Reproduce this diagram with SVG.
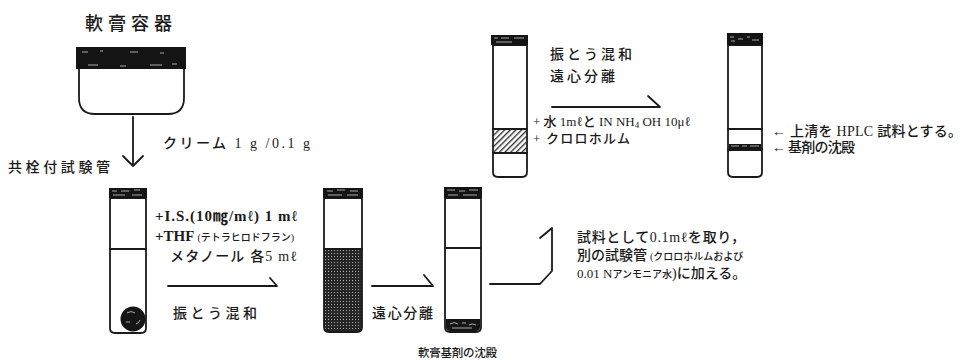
<svg xmlns="http://www.w3.org/2000/svg" width="965" height="360" viewBox="0 0 965 360">
  <style>
    .t { font-family: "Liberation Serif", "Noto Sans CJK JP", serif; fill: #1a1a1a; }
    .jp { font-weight: 500; }
    .small { font-size: 10px; }
    .ln { fill: none; stroke: #1a1a1a; stroke-width: 1.8; stroke-linecap: round; stroke-linejoin: round; }
    .tube { fill: #fff; stroke: #1a1a1a; stroke-width: 1.8; }
    .outline { fill: none; stroke: #1a1a1a; stroke-width: 1.8; }
    .cap { fill: #141414; }
    .speck { stroke: #fff; stroke-width: 0.8; fill: none; opacity: 0.8; }
  </style>
  <defs>
    <pattern id="dots" width="3" height="3" patternUnits="userSpaceOnUse">
      <rect width="3" height="3" fill="#262626"/>
      <rect x="1" y="1" width="1" height="1" fill="#a8a8a8"/>
    </pattern>
    <pattern id="hatch" width="4" height="4" patternUnits="userSpaceOnUse" patternTransform="rotate(45)">
      <rect width="4" height="4" fill="#fff"/>
      <rect x="0" y="0" width="1.4" height="4" fill="#333"/>
    </pattern>
  </defs>

  <rect width="965" height="360" fill="#fff"/>

  <!-- ointment jar -->
  <g id="jar">
    <text class="t jp" x="85" y="30" font-size="18" textLength="87" lengthAdjust="spacing">軟膏容器</text>
    <path class="tube" d="M79,69 V98 Q79,114 95,114 H168 Q184,114 184,98 V69"/>
    <rect class="cap" x="76" y="47" width="110" height="22"/>
    <path class="speck" d="M82,52 h6 M100,51 h3 M130,52 h8 M160,53 h4 M88,65 h10 M120,66 h6 M150,65 h12 M172,64 h5"/>
  </g>

  <!-- stoppered test tube with cream -->
  <g id="tube1">
    <text class="t jp" x="8" y="172" font-size="14" textLength="102" lengthAdjust="spacing">共栓付試験管</text>
    <path class="tube" d="M110,198 V328 Q110,333 115,333 H141 Q146,333 146,328 V198 Z"/>
    <line class="ln" x1="110" y1="249" x2="146" y2="249"/>
    <circle cx="133" cy="319" r="12.5" fill="#151515"/>
    <path class="speck" d="M127,313 q4,-3 8,0 M126,322 h4 M136,324 q3,-1 4,-4"/>
    <rect class="cap" x="109" y="188" width="38" height="10"/>
    <path class="speck" d="M112,191 h5 M121,191 h8 M134,190 h6 M113,195 h12 M132,195 h10"/>
  </g>

  <!-- mixed tube -->
  <g id="tube2">
    <path d="M324,198 V327 Q324,332 329,332 H357 Q362,332 362,327 V198 Z" fill="#fff"/>
    <path d="M324,249 V327 Q324,332 329,332 H357 Q362,332 362,327 V249 Z" fill="url(#dots)"/>
    <path class="outline" d="M324,198 V327 Q324,332 329,332 H357 Q362,332 362,327 V198 Z"/>
    <line class="ln" x1="324" y1="249" x2="362" y2="249"/>
    <rect class="cap" x="323" y="188" width="40" height="10"/>
    <path class="speck" d="M327,191 h6 M337,190 h8 M350,191 h8 M328,195 h14 M347,195 h11"/>
  </g>

  <!-- centrifuged tube with residue -->
  <g id="tube3">
    <path class="tube" d="M445,198 V327 Q445,332 450,332 H476 Q481,332 481,327 V198 Z"/>
    <line class="ln" x1="445" y1="248" x2="481" y2="248"/>
    <path d="M446,319 H480 V327 Q480,331 476,331 H450 Q446,331 446,327 Z" fill="#151515"/>
    <path class="speck" d="M450,324 q4,-3 8,0 M462,323 h4 M469,325 q3,-2 7,0 M452,328 h20"/>
    <rect class="cap" x="444" y="187" width="38" height="11"/>
    <path class="speck" d="M447,190 h8 M459,191 h6 M469,190 h9 M448,195 h10 M463,195 h14"/>
    <text class="t jp" x="418" y="357" font-size="11.5" textLength="79" lengthAdjust="spacing">軟膏基剤の沈殿</text>
  </g>

  <!-- tube with chloroform layer -->
  <g id="tube4">
    <path class="tube" d="M493,45 V172 Q493,177 498,177 H522 Q527,177 527,172 V45 Z"/>
    <rect x="494" y="129" width="32" height="24" fill="url(#hatch)"/>
    <line class="ln" x1="493" y1="129" x2="527" y2="129"/>
    <line class="ln" x1="493" y1="153" x2="527" y2="153"/>
    <rect class="cap" x="491" y="35" width="37" height="10"/>
    <path class="speck" d="M494,38 h4 M501,38 h8 M514,38 h10 M496,42 h16"/>
  </g>

  <!-- final tube -->
  <g id="tube5">
    <path class="tube" d="M728,45 V172 Q728,177 733,177 H757 Q762,177 762,172 V45 Z"/>
    <line class="ln" x1="728" y1="129" x2="762" y2="129"/>
    <rect x="729" y="144" width="32" height="5" fill="#151515"/>
    <line class="ln" x1="728" y1="150" x2="762" y2="150"/>
    <path class="speck" d="M731,146 h8 M742,146 h5 M750,146 h9"/>
    <rect class="cap" x="727" y="33" width="36" height="12"/>
    <path class="speck" d="M730,37 h4 M731,41 h4 M738,39 h5 M747,37 h3 M752,40 h7"/>
  </g>

  <!-- step labels -->
  <g id="labels">
    <text class="t jp" x="163" y="148" font-size="14" textLength="147" lengthAdjust="spacing">クリーム 1 g /0.1 g</text>

    <text class="t" x="155" y="221" font-size="15" font-weight="bold" textLength="142" lengthAdjust="spacing">+I.S.(10㎎/mℓ) 1 mℓ</text>
    <text class="t" x="155" y="241" font-size="15" font-weight="bold">+THF<tspan class="small jp" dx="3">(テトラヒロドフラン)</tspan></text>
    <text class="t jp" x="170" y="261" font-size="14" textLength="127" lengthAdjust="spacing">メタノール 各5 mℓ</text>
    <text class="t jp" x="173" y="318" font-size="14" textLength="84" lengthAdjust="spacing">振とう混和</text>
    <text class="t jp" x="372" y="318" font-size="14" textLength="61" lengthAdjust="spacing">遠心分離</text>

    <text class="t jp" x="577" y="242" font-size="14" textLength="168" lengthAdjust="spacing">試料として0.1mℓを取り，</text>
    <text class="t jp" x="577" y="260" font-size="14">別の試験管<tspan class="small" dx="3">(クロロホルムおよび</tspan></text>
    <text class="t jp" x="577" y="278" font-size="14"><tspan font-size="13">0.01 N</tspan><tspan class="small">アンモニア水</tspan>)に加える。</text>

    <text class="t jp" x="550" y="59" font-size="14" textLength="82" lengthAdjust="spacing">振とう混和</text>
    <text class="t jp" x="550" y="81" font-size="14" textLength="65" lengthAdjust="spacing">遠心分離</text>
    <text class="t jp" x="533" y="126" font-size="13">+ 水 1mℓと IN NH<tspan font-size="9" dy="2">4</tspan><tspan dy="-2"> OH 10μℓ</tspan></text>
    <text class="t jp" x="533" y="143" font-size="13" textLength="97" lengthAdjust="spacing">+ クロロホルム</text>

    <text class="t jp" x="772" y="136" font-size="14" textLength="190" lengthAdjust="spacing">← 上清を HPLC 試料とする。</text>
    <text class="t jp" x="772" y="152" font-size="14" textLength="83" lengthAdjust="spacing">← 基剤の沈殿</text>
  </g>

  <!-- connectors -->
  <g id="connectors">
    <path class="ln" d="M133,117 V166 M123,156 L133,166 L143,156"/>
    <path class="ln" d="M168,286 H277 L270,278"/>
    <path class="ln" d="M372,286 H433 L424,275"/>
    <path class="ln" d="M490,284 H540 L552,271 V228 L540,238"/>
    <path class="ln" d="M552,107 H660 L648,96"/>
  </g>
</svg>
